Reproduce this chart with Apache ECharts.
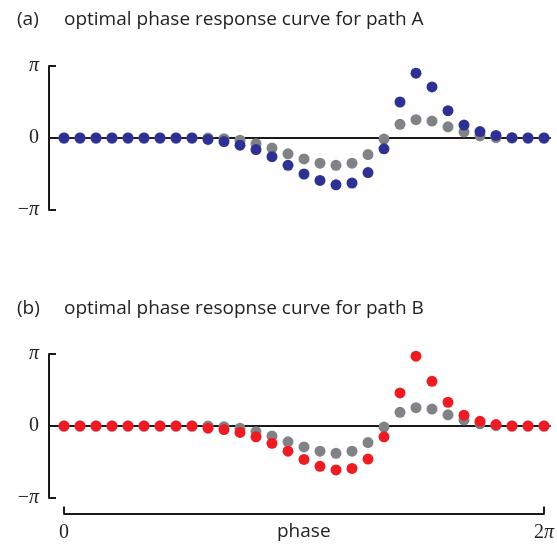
<!DOCTYPE html>
<html>
<head>
<meta charset="utf-8">
<script src="https://cdn.jsdelivr.net/npm/echarts@6/dist/echarts.min.js"></script>
<style>
html,body{margin:0;padding:0;background:#fff;}
#chart{width:557px;height:544px;}
</style>
</head>
<body>
<div id="chart"></div>
<script>
// phase sample index: 0 .. 30 spans 0 .. 2π
var phaseIdx = [0,1,2,3,4,5,6,7,8,9,10,11,12,13,14,15,16,17,18,19,20,21,22,23,24,25,26,27,28,29,30];
// responses in units of π
var grayCurve = [0,0,0,0,0,0,0,0,0,0,-0.01,-0.03,-0.08,-0.14,-0.22,-0.29,-0.35,-0.38,-0.35,-0.23,-0.015,0.19,0.255,0.235,0.155,0.085,0.03,0.005,0,0,0];
var pathA = [0,0,0,0,0,0,0,0,0,-0.02,-0.05,-0.1,-0.16,-0.26,-0.38,-0.5,-0.59,-0.65,-0.625,-0.48,-0.15,0.5,0.9,0.71,0.38,0.18,0.09,0.035,0.005,0,0];
var pathB = [0,0,0,0,0,0,0,0,0,-0.03,-0.05,-0.09,-0.15,-0.24,-0.35,-0.465,-0.56,-0.61,-0.59,-0.46,-0.15,0.46,0.97,0.62,0.33,0.15,0.065,0.02,0,0,0];
var yTicks = {'-1':'{n|−}{i|π}', '0':'{n|0}', '1':'{i|π}'};
var xTicks = {'0':'{n|0}', '30':'{n|2}{i|π}'};
var titleA = ['(a)', 'optimal phase response curve for path A'];
var titleB = ['(b)', 'optimal phase resopnse curve for path B'];
var xName = 'phase';

function pairs(ys){ return phaseIdx.map(function(x,i){ return [x, ys[i]]; }); }

var serifRich = {
  n:{fontFamily:'Liberation Serif', fontSize:20, color:'#222'},
  i:{fontFamily:'Liberation Serif', fontStyle:'italic', fontSize:20, color:'#222'}
};
var sans = 'Open Sans';
var BLK = '#1a1a1a';
var titleStyle = {fontFamily:sans, fontSize:19, fontWeight:'normal', color:'#222'};

function yAx(g){
  return {
    type:'value', gridIndex:g, min:-1, max:1, interval:1,
    axisLine:{show:true, onZero:false, lineStyle:{color:BLK, width:2}},
    axisTick:{show:true, inside:true, length:7, lineStyle:{color:BLK, width:2}},
    splitLine:{show:false},
    axisLabel:{margin:10, formatter:function(v){ return yTicks[String(v)]; }, rich:serifRich}
  };
}
function zeroX(g){
  return {
    type:'value', gridIndex:g, min:-0.9375, max:30.375,
    axisLine:{show:true, onZero:true, lineStyle:{color:BLK, width:2}},
    axisTick:{show:false}, axisLabel:{show:false}, splitLine:{show:false}
  };
}
function dots(name, g, ys, color, z){
  return {
    name:name, type:'scatter', xAxisIndex:g, yAxisIndex:g, data:pairs(ys),
    symbolSize:11, itemStyle:{color:color, opacity:1}, z:z, silent:true
  };
}

var chart = echarts.init(document.getElementById('chart'), null, {renderer:'canvas'});
chart.setOption({
  animation:false,
  backgroundColor:'#fff',
  title:[
    {text:titleA[0], left:12, top:5, textStyle:titleStyle},
    {text:titleA[1], left:59, top:5, textStyle:titleStyle},
    {text:titleB[0], left:12, top:294, textStyle:titleStyle},
    {text:titleB[1], left:59, top:294, textStyle:titleStyle}
  ],
  graphic:[
    {type:'text', left:277, top:522, style:{text:xName, fontFamily:sans, fontSize:19, fill:'#222'}}
  ],
  grid:[
    {left:49, right:7, top:66, height:144},
    {left:49, right:7, top:354, height:144},
    {left:64, right:13, top:503.5, height:10}
  ],
  xAxis:[
    zeroX(0), zeroX(1),
    {
      type:'value', gridIndex:2, min:0, max:30, interval:30, position:'bottom',
      axisLine:{show:true, onZero:false, lineStyle:{color:BLK, width:2}},
      axisTick:{show:true, inside:true, length:7, lineStyle:{color:BLK, width:2}},
      splitLine:{show:false},
      axisLabel:{margin:9, formatter:function(v){ return xTicks[String(v)]; }, rich:serifRich}
    }
  ],
  yAxis:[
    yAx(0), yAx(1),
    {type:'value', gridIndex:2, show:false, min:0, max:1}
  ],
  series:[
    dots('reference A', 0, grayCurve, '#808285', 2),
    dots('path A', 0, pathA, '#2e3192', 3),
    dots('reference B', 1, grayCurve, '#808285', 2),
    dots('path B', 1, pathB, '#ed1c24', 3)
  ]
});
</script>
</body>
</html>
